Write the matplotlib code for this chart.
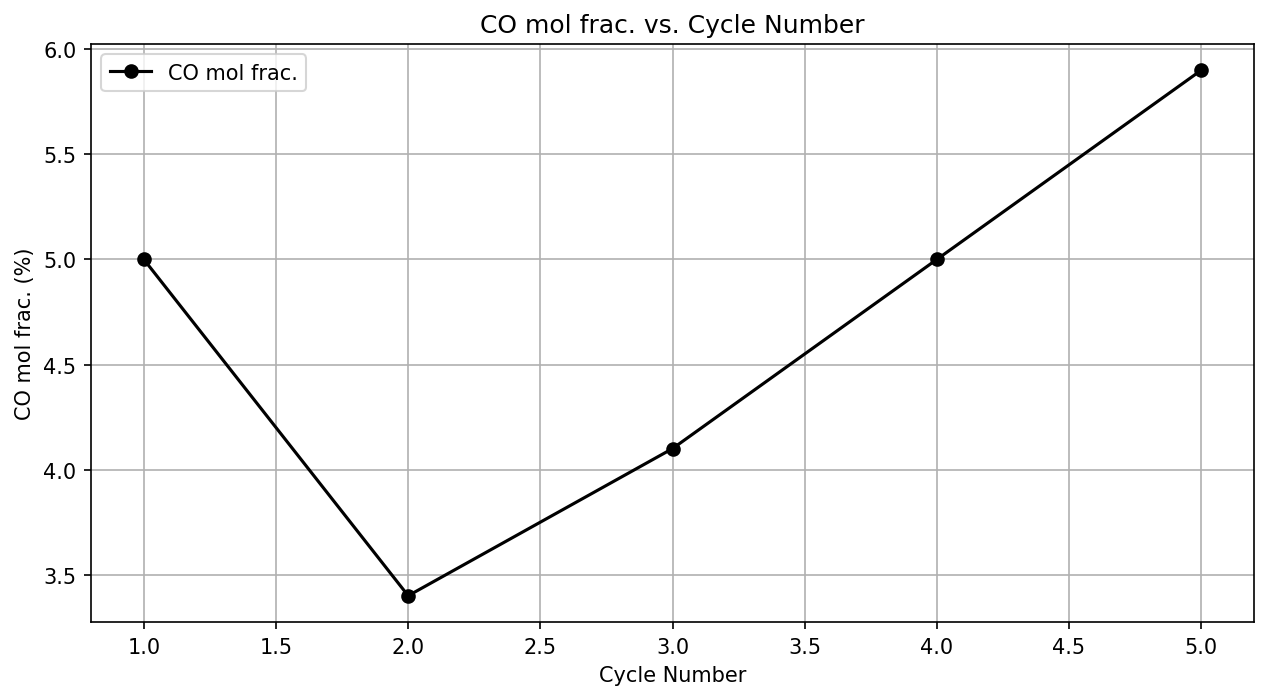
import matplotlib
matplotlib.use('Agg')
import matplotlib.pyplot as plt

cycles = [1, 2, 3, 4, 5]
co_frac = [5.0, 3.4, 4.1, 5.0, 5.9]

fig, ax = plt.subplots(figsize=(1268/150, 701/150), dpi=150)
ax.plot(cycles, co_frac, marker='o', color='black', label='CO mol frac.')
ax.set_title('CO mol frac. vs. Cycle Number')
ax.set_xlabel('Cycle Number')
ax.set_ylabel('CO mol frac. (%)')
ax.grid(True)
ax.legend(loc='upper left')
fig.subplots_adjust(left=91/1268, right=1254/1268, top=1-45/701, bottom=1-623/701)
fig.savefig('out.png', dpi=150)
